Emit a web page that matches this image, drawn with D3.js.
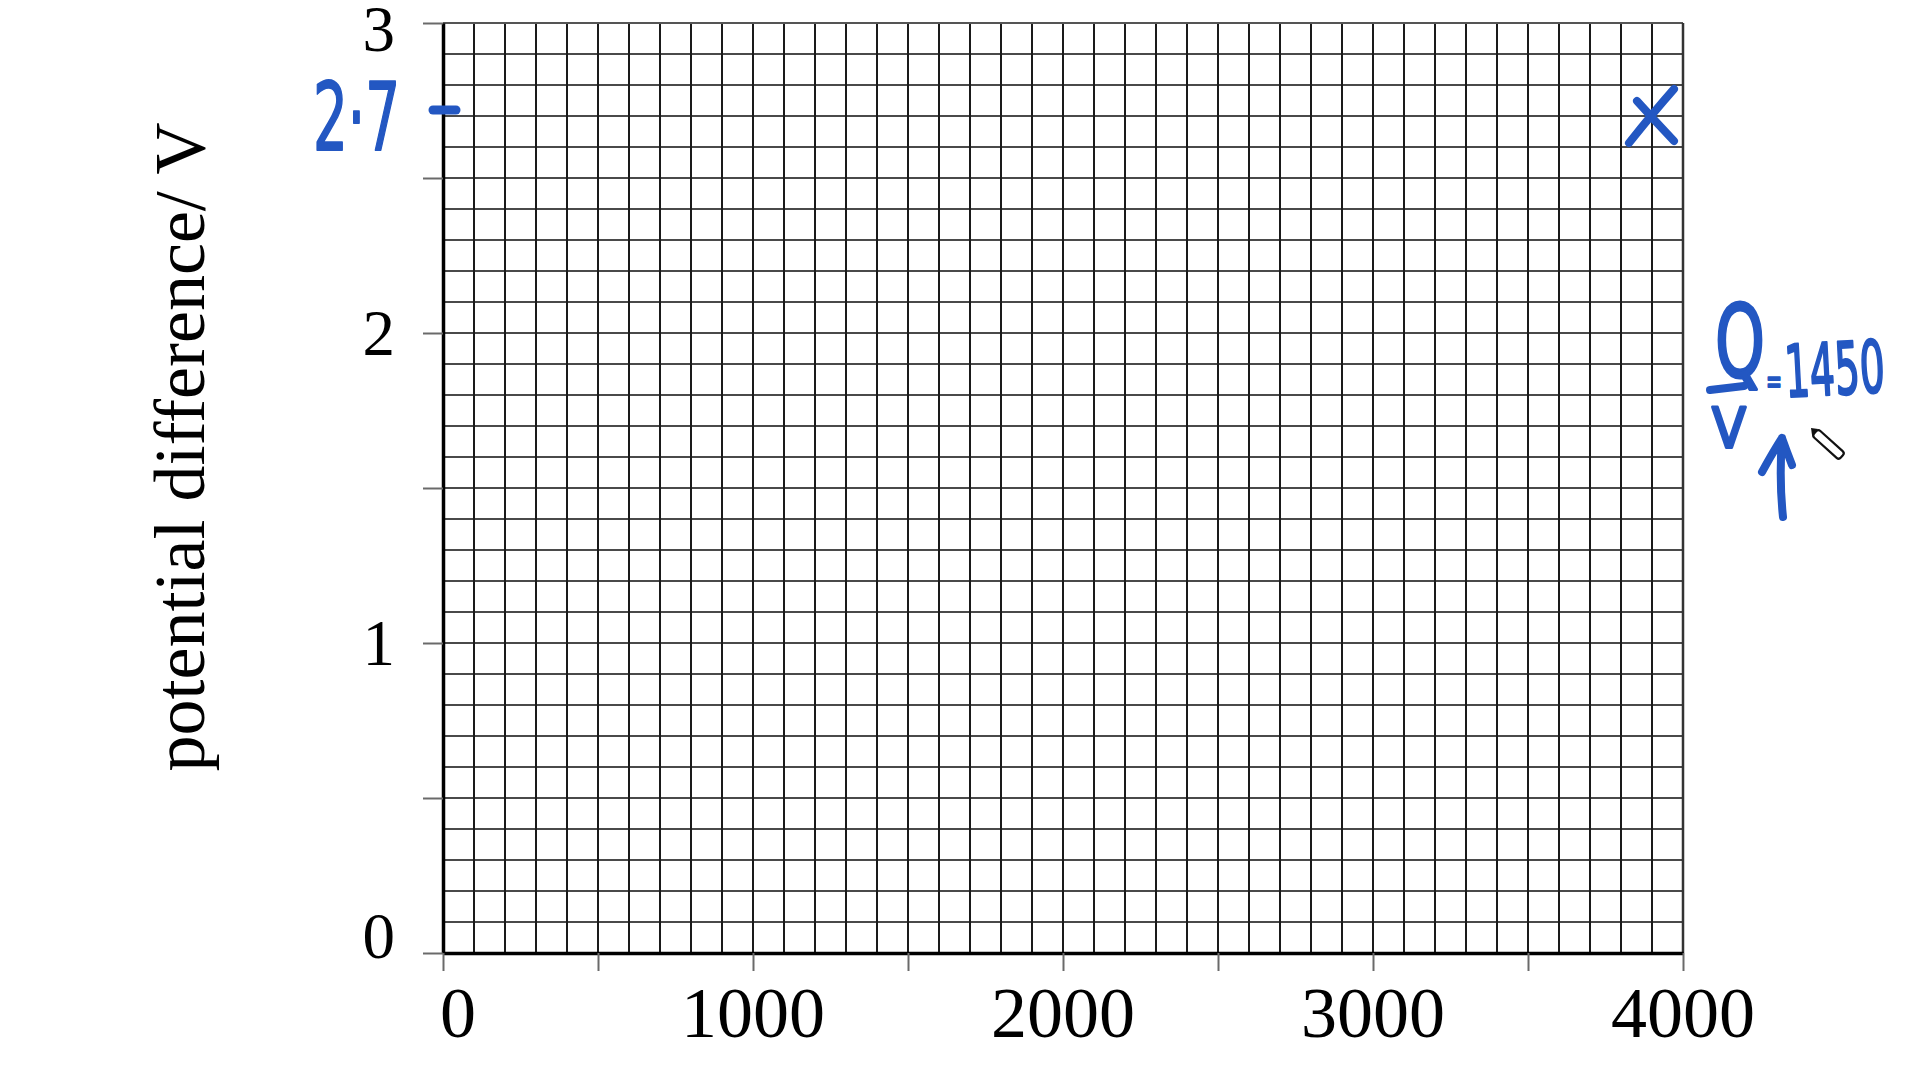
<!DOCTYPE html>
<html>
<head>
<meta charset="utf-8">
<script src="https://cdn.jsdelivr.net/npm/d3@7"></script>
<style>
  html, body { margin: 0; padding: 0; background: #ffffff; }
  svg { display: block; }
</style>
</head>
<body>
<svg id="chart" width="1920" height="1080"></svg>
<script>
// ---------- data ----------
const xDomain = [0, 4000];
const yDomain = [0, 3];
const xTickLabels = [0, 1000, 2000, 3000, 4000];
const yTickLabels = [0, 1, 2, 3];
const xMinorStep = 100;     // grid columns
const yMinorStep = 0.1;     // grid rows
const xTickStep = 500;      // outer ticks on x axis
const yTickStep = 0.5;      // outer ticks on y axis
const yAxisTitle = "potential difference/ V";
const plottedPoints = [{ q: 3900, v: 2.7 }];
const markedValue = 2.7;
const markedLabel = "2·7";
const ratioNumerator = "Q";
const ratioDenominator = "V";
const ratioValue = "1450";

// ---------- layout ----------
const svg = d3.select("#chart");
const plotLeft = 443, plotRight = 1683, plotTop = 23, plotBottom = 953;
const x = d3.scaleLinear().domain(xDomain).range([plotLeft, plotRight]);
const y = d3.scaleLinear().domain(yDomain).range([plotBottom, plotTop]);
const blue = "#2357c2";
const serif = "'Liberation Serif', 'DejaVu Serif', serif";
const hand = "'DejaVu Sans', sans-serif";

// ---------- grid ----------
const xs = d3.range(xDomain[0], xDomain[1] + 1e-9, xMinorStep);
const ys = d3.range(0, Math.round((yDomain[1] - yDomain[0]) / yMinorStep) + 1).map(i => yDomain[0] + i * yMinorStep);

svg.append("g").selectAll("line").data(ys).join("line")
  .attr("x1", x(xDomain[0])).attr("x2", x(xDomain[1]))
  .attr("y1", d => y(d)).attr("y2", d => y(d))
  .attr("stroke", "#4a4a4a").attr("stroke-width", 1.8);

svg.append("g").selectAll("line").data(xs).join("line")
  .attr("x1", d => x(d)).attr("x2", d => x(d))
  .attr("y1", y(yDomain[0])).attr("y2", y(yDomain[1]))
  .attr("stroke", "#1a1a1a").attr("stroke-width", 2);

// border
svg.append("line").attr("x1", x(0)).attr("x2", x(4000)).attr("y1", y(3)).attr("y2", y(3))
  .attr("stroke", "#555").attr("stroke-width", 2);
svg.append("line").attr("x1", x(4000)).attr("x2", x(4000)).attr("y1", y(0)).attr("y2", y(3))
  .attr("stroke", "#333").attr("stroke-width", 2.5);

// ---------- axes ----------
const yAxis = d3.axisLeft(y)
  .tickValues(d3.range(0, 3 + 1e-9, yTickStep))
  .tickSize(20).tickSizeOuter(0).tickFormat("");
const gy = svg.append("g").attr("transform", `translate(${plotLeft},0)`).call(yAxis);
gy.select(".domain").attr("stroke", "#000").attr("stroke-width", 3.5);
gy.selectAll(".tick line").attr("stroke", "#6a6a6a").attr("stroke-width", 2);

const xAxis = d3.axisBottom(x)
  .tickValues(d3.range(0, 4000 + 1e-9, xTickStep))
  .tickSize(18).tickSizeOuter(0).tickFormat("");
const gx = svg.append("g").attr("transform", `translate(0,${plotBottom})`).call(xAxis);
gx.select(".domain").attr("stroke", "#000").attr("stroke-width", 3.5);
gx.selectAll(".tick line").attr("stroke", "#6a6a6a").attr("stroke-width", 2);

// tick labels
svg.append("g").selectAll("text").data(yTickLabels).join("text")
  .attr("x", plotLeft - 48)
  .attr("y", d => y(d) + (d === 0 ? -17 : d === 3 ? 6 : 0))
  .attr("text-anchor", "end")
  .attr("dominant-baseline", "central")
  .attr("font-family", serif).attr("font-size", 65).attr("fill", "#000")
  .text(d => d);

svg.append("g").selectAll("text").data(xTickLabels).join("text")
  .attr("x", d => x(d) + (d === 0 ? 15 : 0))
  .attr("y", 1037)
  .attr("text-anchor", "middle")
  .attr("font-family", serif).attr("font-size", 72).attr("fill", "#000")
  .text(d => d);

// axis title
svg.append("text")
  .attr("transform", "translate(204,447) rotate(-90)")
  .attr("text-anchor", "middle")
  .attr("font-family", serif).attr("font-size", 72).attr("fill", "#000")
  .text(yAxisTitle);

// ---------- annotations (blue pen) ----------
const ann = svg.append("g").attr("fill", blue).attr("stroke", blue)
  .attr("stroke-linecap", "round").attr("stroke-linejoin", "round");

// marked value on y axis
ann.append("text")
  .attr("x", plotLeft - 130).attr("y", y(markedValue) + 34)
  .attr("font-family", hand).attr("font-size", 94).attr("stroke-width", 2)
  .attr("textLength", 87).attr("lengthAdjust", "spacingAndGlyphs")
  .text(markedLabel);
ann.append("line")
  .attr("x1", plotLeft - 10).attr("x2", plotLeft + 13)
  .attr("y1", y(markedValue) - 6).attr("y2", y(markedValue) - 6)
  .attr("stroke-width", 9);

// plotted point(s) as crosses
ann.selectAll("path.pt").data(plottedPoints).join("path")
  .attr("class", "pt")
  .attr("fill", "none").attr("stroke-width", 8)
  .attr("d", d => {
    const cx = x(d.q), cy = y(d.v);
    return `M${cx - 23},${cy + 27} Q${cx},${cy - 2} ${cx + 22},${cy - 27}` +
           `M${cx - 15},${cy - 15} Q${cx + 4},${cy + 6} ${cx + 22},${cy + 25}`;
  });

// Q / V = 1450
const ax = plotRight + 30;
ann.append("text")
  .attr("x", ax + 2).attr("y", 377)
  .attr("font-family", hand).attr("font-size", 100).attr("stroke-width", 3)
  .attr("textLength", 50).attr("lengthAdjust", "spacingAndGlyphs")
  .text(ratioNumerator);
ann.append("line")
  .attr("x1", ax - 3).attr("x2", ax + 31).attr("y1", 390).attr("y2", 386)
  .attr("stroke-width", 8);
ann.append("text")
  .attr("x", ax - 1).attr("y", 447)
  .attr("font-family", hand).attr("font-size", 56).attr("stroke-width", 3)
  .attr("textLength", 34).attr("lengthAdjust", "spacingAndGlyphs")
  .text(ratioDenominator);
ann.append("text")
  .attr("x", ax + 53).attr("y", 393)
  .attr("font-family", hand).attr("font-size", 34).attr("stroke-width", 2)
  .attr("textLength", 16).attr("lengthAdjust", "spacingAndGlyphs")
  .text("=");
ann.append("text")
  .attr("x", ax + 73).attr("y", 397)
  .attr("transform", `rotate(-3, ${ax + 73}, 397)`)
  .attr("font-family", hand).attr("font-size", 72).attr("stroke-width", 2.5)
  .attr("textLength", 100).attr("lengthAdjust", "spacingAndGlyphs")
  .text(ratioValue);

// arrow pointing up to V
ann.append("path")
  .attr("fill", "none").attr("stroke-width", 8)
  .attr("d", `M${ax + 70},517 Q${ax + 66},480 ${ax + 69},438` +
             `M${ax + 49},472 Q${ax + 60},452 ${ax + 69},438 Q${ax + 74},452 ${ax + 79},465`);

// pen cursor
const pen = svg.append("g").attr("transform", `translate(${ax + 98},428) rotate(42)`);
pen.append("rect").attr("x", 6).attr("y", -4).attr("width", 36).attr("height", 9)
  .attr("rx", 3).attr("fill", "#fff").attr("stroke", "#111").attr("stroke-width", 2.2);
pen.append("path").attr("d", "M0,0 L6,-4 L6,5 Z").attr("fill", "#111");
</script>
</body>
</html>
